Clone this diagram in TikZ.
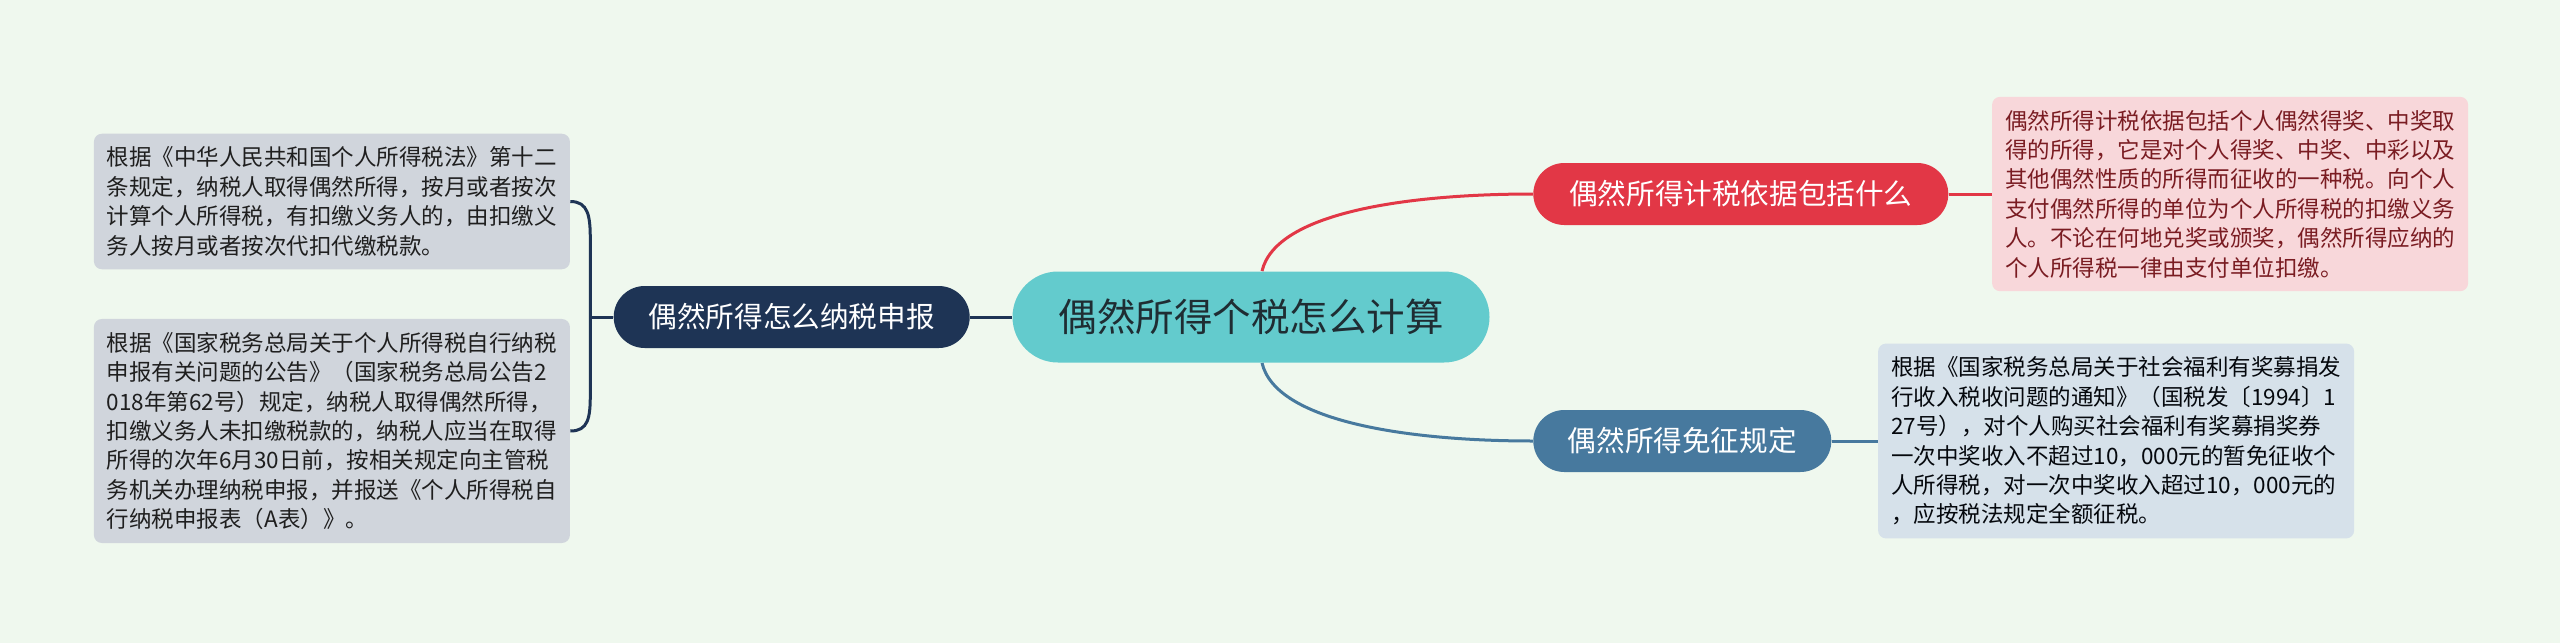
\documentclass[tikz,border=0pt]{standalone}
\usepackage{fontspec}
\setmainfont{Noto Sans CJK SC}
\usepackage{tikz}
\usetikzlibrary{positioning,backgrounds}
\definecolor{MapBg}{HTML}{EFF8EE}
\definecolor{MapHub}{HTML}{63CBCD}
\definecolor{MapHubText}{HTML}{1F2D33}
\definecolor{MapNavy}{HTML}{1E3455}
\definecolor{MapRed}{HTML}{E23746}
\definecolor{MapSteel}{HTML}{47799E}
\definecolor{MapGrey}{HTML}{D0D5DC}
\definecolor{MapPink}{HTML}{F8D7DA}
\definecolor{MapPinkText}{HTML}{7A1C22}
\definecolor{MapIce}{HTML}{D6E1EA}

\begin{document}
\begin{tikzpicture}[
    x=0.5pt, y=-0.5pt,
    pill/.style={rounded corners=15.5pt, minimum height=31pt, inner sep=0pt, text=white,
      font=\fontsize{14.3}{17}\selectfont},
    note/.style={rounded corners=4pt, text width=225pt, align=left, inner xsep=6.5pt, inner ysep=6.6pt,
      font=\fontsize{11.25}{14.7}\selectfont},
    link/.style={line width=1.5pt},
  ]
    \useasboundingbox (0,0) rectangle (2560,643);

    % ---- 中心主题 ----
    \node[rounded corners=22.75pt, fill=MapHub, text=MapHubText, minimum width=238.5pt, minimum height=45.5pt,
      font=\fontsize{19.25}{23}\selectfont] (hub) at (1251,317) {偶然所得个税怎么计算};

    % ---- 左侧分支 ----
    \node[pill, fill=MapNavy, minimum width=178pt, left=21pt of hub] (ask) {偶然所得怎么纳税申报};
    \node[note, fill=MapGrey, text=black!88, left=21.5pt of ask, yshift=57.75pt] (lawnote)
      {根据《中华人民共和国个人所得税法》第十二\\
       条规定，纳税人取得偶然所得，按月或者按次\\
       计算个人所得税，有扣缴义务人的，由扣缴义\\
       务人按月或者按次代扣代缴税款。};
    \node[note, fill=MapGrey, text=black!88, left=21.5pt of ask, yshift=-57pt] (filenote)
      {根据《国家税务总局关于个人所得税自行纳税\\
       申报有关问题的公告》（国家税务总局公告2\\
       018年第62号）规定，纳税人取得偶然所得，\\
       扣缴义务人未扣缴税款的，纳税人应当在取得\\
       所得的次年6月30日前，按相关规定向主管税\\
       务机关办理纳税申报，并报送《个人所得税自\\
       行纳税申报表（A表）》。};

    % ---- 右侧分支 ----
    \node[pill, fill=MapRed, minimum width=207.5pt, right=21.5pt of hub, yshift=61.5pt] (basis) {偶然所得计税依据包括什么};
    \node[note, fill=MapPink, text=MapPinkText, right=21.5pt of basis] (basisnote)
      {偶然所得计税依据包括个人偶然得奖、中奖取\\
       得的所得，它是对个人得奖、中奖、中彩以及\\
       其他偶然性质的所得而征收的一种税。向个人\\
       支付偶然所得的单位为个人所得税的扣缴义务\\
       人。不论在何地兑奖或颁奖，偶然所得应纳的\\
       个人所得税一律由支付单位扣缴。};

    \node[pill, fill=MapSteel, minimum width=149pt, right=21.5pt of hub, yshift=-62pt] (exempt) {偶然所得免征规定};
    \node[note, fill=MapIce, text=black!85!MapNavy, right=23pt of exempt] (exemptnote)
      {根据《国家税务总局关于社会福利有奖募捐发\\
       行收入税收问题的通知》（国税发〔1994〕1\\
       27号），对个人购买社会福利有奖募捐奖券\\
       一次中奖收入不超过10，000元的暂免征收个\\
       人所得税，对一次中奖收入超过10，000元的\\
       ，应按税法规定全额征税。};

    % ---- 连线 ----
    \begin{scope}[on background layer]
      \fill[MapBg] (0,0) rectangle (2560,643);
      \draw[link, MapNavy] (hub.west) -- (ask.east);
      \coordinate (fork) at ([xshift=-11.5pt]ask.west);
      \draw[link, MapNavy] (ask.west) -- (fork);
      \draw[link, MapNavy] (lawnote.east) .. controls +(9pt,0) and +(0,12pt) .. ([yshift=38.5pt]fork)
        -- ([yshift=-38.5pt]fork) .. controls +(0,-12pt) and +(9pt,0) .. (filenote.east);
      \draw[link, MapRed] ([xshift=5.5pt]hub.north) .. controls +(7pt,30pt) and +(-60pt,0) .. (basis.west);
      \draw[link, MapSteel] ([xshift=5.5pt]hub.south) .. controls +(7pt,-30pt) and +(-60pt,0) .. (exempt.west);
      \draw[link, MapRed] (basis.east) -- (basisnote.west);
      \draw[link, MapSteel] (exempt.east) -- (exemptnote.west);
    \end{scope}
\end{tikzpicture}
\end{document}
